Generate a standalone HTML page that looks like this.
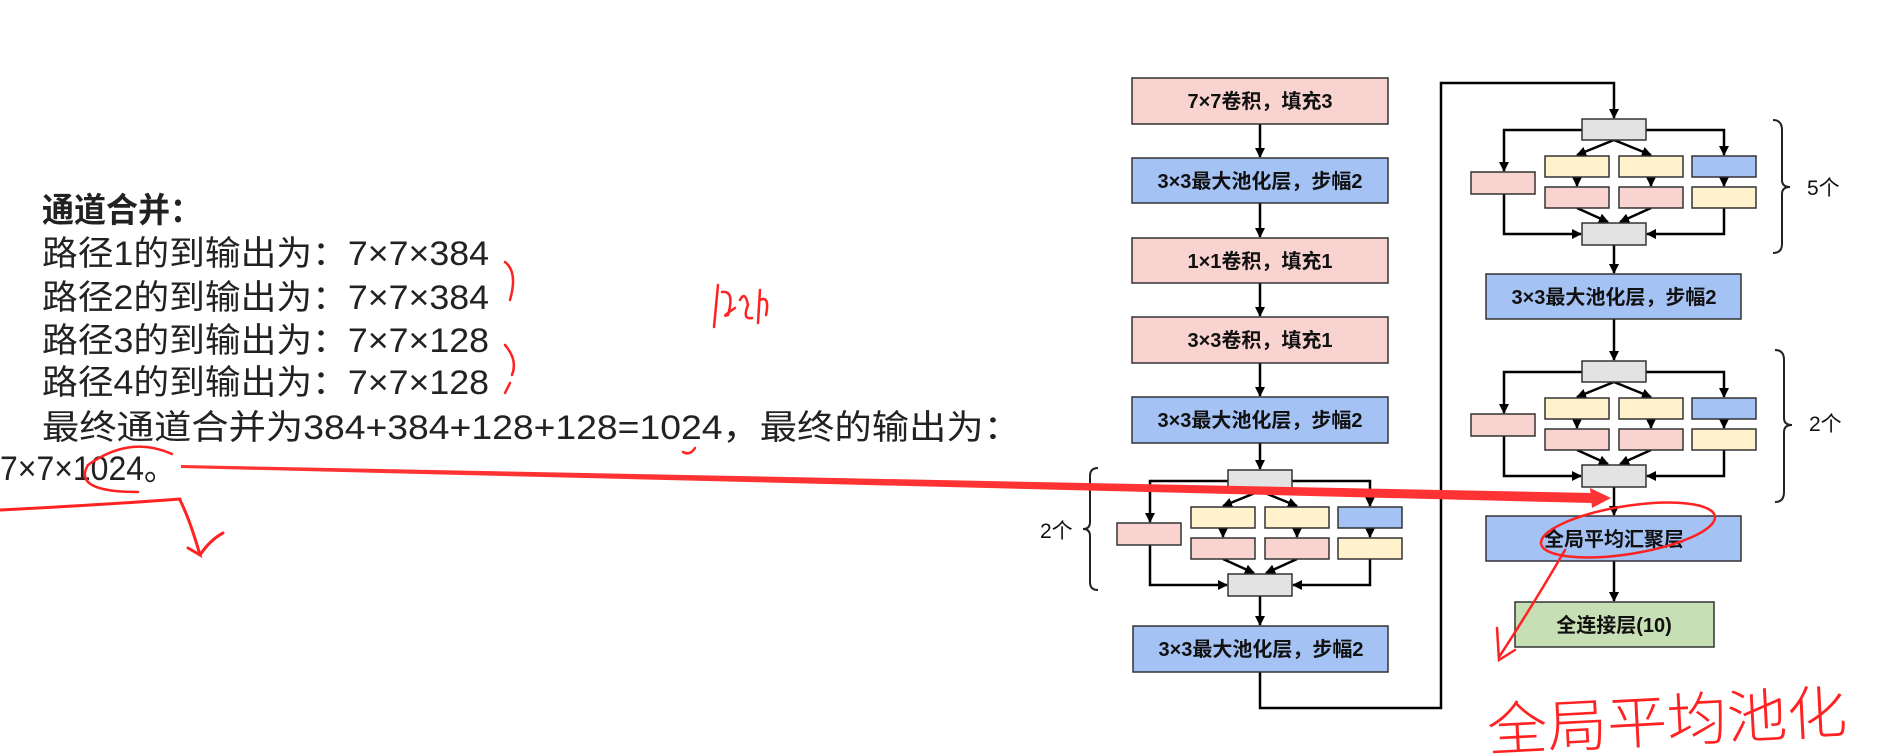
<!DOCTYPE html>
<html><head><meta charset="utf-8"><style>
html,body{margin:0;padding:0;background:#fff;width:1885px;height:756px;overflow:hidden}
svg{display:block}
.lt{font-family:"Liberation Sans","Noto Sans CJK SC",sans-serif;font-size:34px;fill:#222}
.bx{font-family:"Liberation Sans","Noto Sans CJK SC",sans-serif;font-size:20px;font-weight:bold;fill:#111}
</style></head><body>
<svg width="1885" height="756" viewBox="0 0 1885 756" xmlns="http://www.w3.org/2000/svg">
<defs>
<marker id="ah" markerWidth="10" markerHeight="10" refX="9" refY="5" orient="auto" markerUnits="userSpaceOnUse"><path d="M0,0 L10,5 L0,10 z" fill="#000"/></marker>
<g id="inc" stroke="#333" stroke-width="1.5">
 <g fill="none" stroke="#000" stroke-width="2.5">
  <polyline points="-32,11 -110,11 -110,52" marker-end="url(#ah)"/>
  <polyline points="32,11 110,11 110,36" marker-end="url(#ah)"/>
  <line x1="0" y1="21" x2="-37" y2="36" marker-end="url(#ah)"/>
  <line x1="0" y1="21" x2="37" y2="36" marker-end="url(#ah)"/>
  <line x1="-37" y1="58" x2="-37" y2="67" marker-end="url(#ah)"/>
  <line x1="37" y1="58" x2="37" y2="67" marker-end="url(#ah)"/>
  <line x1="110" y1="58" x2="110" y2="67" marker-end="url(#ah)"/>
  <line x1="-37" y1="89" x2="-6" y2="103" marker-end="url(#ah)"/>
  <line x1="37" y1="89" x2="6" y2="103" marker-end="url(#ah)"/>
  <polyline points="-110,75 -110,115 -33,115" marker-end="url(#ah)"/>
  <polyline points="110,89 110,115 33,115" marker-end="url(#ah)"/>
 </g>
 <rect x="-32" y="0" width="64" height="21" fill="#e3e3e3"/>
 <rect x="-143" y="53" width="64" height="22" fill="#f8d3d0"/>
 <rect x="-69" y="37" width="64" height="21" fill="#fff2cc"/>
 <rect x="-69" y="68" width="64" height="21" fill="#f8d3d0"/>
 <rect x="5" y="37" width="64" height="21" fill="#fff2cc"/>
 <rect x="5" y="68" width="64" height="21" fill="#f8d3d0"/>
 <rect x="78" y="37" width="64" height="21" fill="#a4c2f4"/>
 <rect x="78" y="68" width="64" height="21" fill="#fff2cc"/>
 <rect x="-32" y="104" width="64" height="22" fill="#e3e3e3"/>
</g>
</defs>

<!-- left text -->
<text x="42" y="222" class="lt" font-weight="bold" font-size="32" textLength="160" lengthAdjust="spacingAndGlyphs">通道合并：</text>
<text x="42" y="265" class="lt" textLength="447" lengthAdjust="spacingAndGlyphs">路径1的到输出为：7×7×384</text>
<text x="42" y="309" class="lt" textLength="447" lengthAdjust="spacingAndGlyphs">路径2的到输出为：7×7×384</text>
<text x="42" y="352" class="lt" textLength="447" lengthAdjust="spacingAndGlyphs">路径3的到输出为：7×7×128</text>
<text x="42" y="394" class="lt" textLength="447" lengthAdjust="spacingAndGlyphs">路径4的到输出为：7×7×128</text>
<text x="42" y="439" class="lt" textLength="979" lengthAdjust="spacingAndGlyphs">最终通道合并为384+384+128+128=1024，最终的输出为：</text>
<text x="0" y="480" class="lt" textLength="176" lengthAdjust="spacingAndGlyphs">7×7×1024。</text>

<!-- main left column -->
<g fill="none" stroke="#000" stroke-width="2.5">
 <line x1="1260" y1="124" x2="1260" y2="157" marker-end="url(#ah)"/>
 <line x1="1260" y1="203" x2="1260" y2="237" marker-end="url(#ah)"/>
 <line x1="1260" y1="283" x2="1260" y2="316" marker-end="url(#ah)"/>
 <line x1="1260" y1="363" x2="1260" y2="396" marker-end="url(#ah)"/>
 <line x1="1260" y1="443" x2="1260" y2="469" marker-end="url(#ah)"/>
 <line x1="1260" y1="596" x2="1260" y2="625" marker-end="url(#ah)"/>
 <polyline points="1260,672 1260,708 1441,708 1441,83 1614,83 1614,118" marker-end="url(#ah)"/>
 <line x1="1614" y1="245" x2="1614" y2="273" marker-end="url(#ah)"/>
 <line x1="1614" y1="319" x2="1614" y2="360" marker-end="url(#ah)"/>
 <line x1="1614" y1="487" x2="1614" y2="515" marker-end="url(#ah)"/>
 <line x1="1614" y1="561" x2="1614" y2="601" marker-end="url(#ah)"/>
</g>
<g stroke="#333" stroke-width="1.5">
 <rect x="1132" y="78" width="256" height="46" fill="#f8d3d0"/>
 <rect x="1132" y="158" width="256" height="45" fill="#a4c2f4"/>
 <rect x="1132" y="238" width="256" height="45" fill="#f8d3d0"/>
 <rect x="1132" y="317" width="256" height="46" fill="#f8d3d0"/>
 <rect x="1132" y="397" width="256" height="46" fill="#a4c2f4"/>
 <rect x="1133" y="626" width="255" height="46" fill="#a4c2f4"/>
 <rect x="1486" y="274" width="255" height="45" fill="#a4c2f4"/>
 <rect x="1486" y="516" width="255" height="45" fill="#a4c2f4"/>
 <rect x="1515" y="602" width="199" height="45" fill="#c6dfb4"/>
</g>
<g class="bx" text-anchor="middle">
 <text x="1260" y="108">7×7卷积，填充3</text>
 <text x="1260" y="188">3×3最大池化层，步幅2</text>
 <text x="1260" y="268">1×1卷积，填充1</text>
 <text x="1260" y="347">3×3卷积，填充1</text>
 <text x="1260" y="427">3×3最大池化层，步幅2</text>
 <text x="1261" y="656">3×3最大池化层，步幅2</text>
 <text x="1614" y="304">3×3最大池化层，步幅2</text>
 <text x="1614" y="546">全局平均汇聚层</text>
 <text x="1614" y="632">全连接层(10)</text>
</g>

<use href="#inc" transform="translate(1260,470)"/>
<use href="#inc" transform="translate(1614,119)"/>
<use href="#inc" transform="translate(1614,361)"/>

<!-- braces -->
<g fill="none" stroke="#222" stroke-width="2">
 <path d="M1098,468 Q1090,468 1090,476 L1090,522 Q1090,529 1083,529 Q1090,529 1090,536 L1090,582 Q1090,590 1098,590"/>
 <path d="M1773,120 Q1782,120 1782,130 L1782,180 Q1782,187 1790,187 Q1782,187 1782,194 L1782,244 Q1782,253 1773,253"/>
 <path d="M1775,350 Q1784,350 1784,360 L1784,418 Q1784,425 1792,425 Q1784,425 1784,432 L1784,492 Q1784,502 1775,502"/>
</g>
<g font-family="Liberation Sans,Noto Sans CJK SC,sans-serif" font-size="21" fill="#111">
 <text x="1040" y="538">2个</text>
 <text x="1807" y="195">5个</text>
 <text x="1809" y="431">2个</text>
</g>

<!-- red annotations -->
<g fill="none" stroke="#f22" stroke-linecap="round">
 <polygon points="181,465 181,468 1592,503 1592,493" fill="#f33" stroke="none"/>
 <polygon points="1611,498 1590,488 1592,508" fill="#f33" stroke="none"/>
 <path d="M505,262 Q518,272 510,300" stroke-width="2.5"/>
 <path d="M505,345 Q518,360 512,375 M510,383 L505,393" stroke-width="2.5"/>
 <path d="M683,452 Q690,456 695,448" stroke-width="2.5"/>
 <path d="M718,285 L714,327 M722,292 Q735,290 728,315 Q720,318 735,308 M740,300 Q745,290 748,305 Q742,320 752,318 M760,300 Q770,295 766,315 M760,290 L758,323" stroke-width="2.5"/>
 <path d="M172,454 Q130,435 88,465 Q72,492 138,492" stroke-width="2.5"/>
 <path d="M0,510 Q100,505 180,499" stroke-width="3"/>
 <path d="M180,500 Q190,520 200,555 L188,548 M200,555 Q210,540 223,533" stroke-width="3"/>
 <ellipse cx="1628" cy="530" rx="88" ry="24" transform="rotate(-9 1628 530)" stroke-width="2.5"/>
 <path d="M1565,550 Q1530,610 1499,657 M1497,628 L1499,660 L1515,650" stroke-width="2.5"/>
</g>
<text x="1487" y="742" font-family="Noto Sans CJK SC,sans-serif" font-size="58" font-weight="300" fill="#f22" textLength="360" lengthAdjust="spacingAndGlyphs" transform="rotate(-3 1660 720)">全局平均池化</text>
</svg>
</body></html>
